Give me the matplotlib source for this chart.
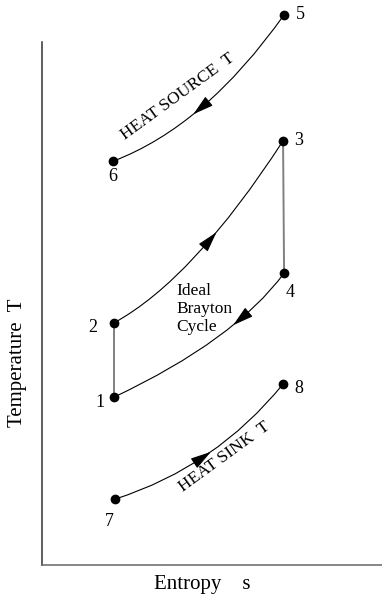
import matplotlib
matplotlib.use("Agg")
import matplotlib.pyplot as plt
import numpy as np
from matplotlib.path import Path
from matplotlib.patches import PathPatch, FancyArrowPatch

# T-s diagram of an ideal Brayton cycle with heat source / sink lines
# state points (entropy s, temperature T), arbitrary units
states = ["1", "2", "3", "4", "5", "6", "7", "8"]
entropy = [2.12, 2.12, 7.09, 7.12, 7.12, 2.09, 2.15, 7.09]
temperature = [3.21, 4.63, 8.11, 5.58, 10.52, 7.72, 1.26, 3.46]

plt.rcParams['font.family'] = ['Liberation Serif', 'DejaVu Serif']

fig = plt.figure(figsize=(3.82, 5.98), dpi=100)
ax = fig.add_axes([42 / 382, 33 / 598, 340 / 382, 523 / 598])
ax.set_xlim(0, 10)
ax.set_ylim(0, 10)
ax.set_xticks([])
ax.set_yticks([])
for side in ["top", "right"]:
    ax.spines[side].set_visible(False)
ax.spines["left"].set_color("#333333")
ax.spines["bottom"].set_color("#666666")
ax.spines["left"].set_linewidth(1.1)
ax.spines["bottom"].set_linewidth(1.1)

pt = {k: (s, t) for k, s, t in zip(states, entropy, temperature)}


def bezier(a, b, u, v, t):
    # quadratic curve from a to b, control point placed by fractions u, v
    p0 = np.array(pt[a])
    p2 = np.array(pt[b])
    c = p0 + np.array([u, v]) * (p2 - p0)
    return (1 - t) ** 2 * p0 + 2 * t * (1 - t) * c + t ** 2 * p2, c


def curve(a, b, u, v, t_arrow, reverse=False):
    _, c = bezier(a, b, u, v, 0)
    path = Path([pt[a], tuple(c), pt[b]], [Path.MOVETO, Path.CURVE3, Path.CURVE3])
    ax.add_patch(PathPatch(path, fc="none", ec="black", lw=0.8, clip_on=False))
    dt = -0.06 if not reverse else 0.06
    tip, _ = bezier(a, b, u, v, t_arrow)
    tail, _ = bezier(a, b, u, v, t_arrow + dt)
    arr = FancyArrowPatch(tuple(tail), tuple(tip),
                          arrowstyle="-|>,head_length=0.85,head_width=0.24",
                          mutation_scale=15, color="black", lw=0.8,
                          shrinkA=0, shrinkB=0, clip_on=False)
    ax.add_patch(arr)


# heat source 5 -> 6
curve("6", "5", 0.54, 0.24, 0.45, reverse=True)
# heat addition 2 -> 3
curve("2", "3", 0.47, 0.24, 0.62)
# heat rejection 4 -> 1
curve("1", "4", 0.71, 0.46, 0.6, reverse=True)
# heat sink 7 -> 8
curve("7", "8", 0.6, 0.28, 0.52)

# isentropic lines
ax.plot([pt["1"][0], pt["2"][0]], [pt["1"][1], pt["2"][1]], color="#808080", lw=1.4, clip_on=False)
ax.plot([pt["3"][0], pt["4"][0]], [pt["3"][1], pt["4"][1]], color="#808080", lw=1.4, clip_on=False)

ax.plot(entropy, temperature, "o", color="black", ms=6, ls="none", clip_on=False, zorder=5)

offsets = {"1": (-10, -4), "2": (-15, -3), "3": (11, 0), "4": (4, -14),
           "5": (11.5, 0), "6": (0, -11), "7": (-4, -16), "8": (11, -3)}
for k in states:
    ax.annotate(k, pt[k], xytext=offsets[k], textcoords="offset points",
                ha="center", va="center", fontsize=13, annotation_clip=False)

ax.text(4.0, 8.95, "HEAT SOURCE  T", rotation=36, ha="center", va="center",
        fontsize=12.5, rotation_mode="anchor", clip_on=False)
ax.text(5.38, 2.07, "HEAT SINK  T", rotation=36, ha="center", va="center",
        fontsize=12.5, rotation_mode="anchor")
ax.text(3.94, 4.9, "Ideal\nBrayton\nCycle", ha="left", va="center",
        fontsize=12.5, linespacing=1.15)

fig.text(18 / 382, 1 - 363 / 598, "Temperature  T", rotation=90,
         ha="center", va="center", fontsize=15)
fig.text(202 / 382, 1 - 584 / 598, "Entropy    s", ha="center", va="center",
         fontsize=15)

fig.savefig("out.png", dpi=100)
